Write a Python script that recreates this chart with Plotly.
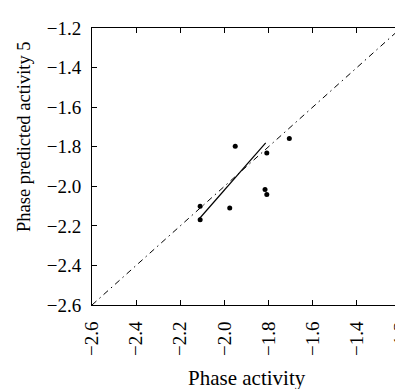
import plotly.graph_objects as go

# Observed data points (phase activity vs predicted activity)
obs_x = [-2.11, -2.11, -1.976, -1.951, -1.808, -1.706, -1.816, -1.808]
obs_y = [-2.101, -2.169, -2.110, -1.798, -1.832, -1.758, -2.016, -2.041]

# Regression line end points
fit_x = [-2.114, -1.813]
fit_y = [-2.164, -1.781]

# Identity line
diag = [-2.6, -1.2]

tick_vals = [-2.6, -2.4, -2.2, -2.0, -1.8, -1.6, -1.4, -1.2]
tick_text = ["\u22122.6", "\u22122.4", "\u22122.2", "\u22122.0", "\u22121.8", "\u22121.6", "\u22121.4", "\u22121.2"]

x_title = "Phase activity"
y_title = "Phase predicted activity 5"

font_family = "Liberation Serif, DejaVu Serif, serif"

fig = go.Figure()
fig.add_trace(go.Scatter(x=diag, y=diag, mode="lines",
                         line=dict(color="black", width=1, dash="6px,4px,1.5px,4px"),
                         showlegend=False, hoverinfo="skip"))
fig.add_trace(go.Scatter(x=fit_x, y=fit_y, mode="lines",
                         line=dict(color="black", width=1.2),
                         showlegend=False))
fig.add_trace(go.Scatter(x=obs_x, y=obs_y, mode="markers",
                         marker=dict(color="black", size=5),
                         showlegend=False))

axis_common = dict(
    range=[-2.6, -1.2], tickvals=tick_vals, ticktext=tick_text,
    showgrid=False, zeroline=False, showline=True, linecolor="black", linewidth=1,
    mirror="ticks", ticks="inside", ticklen=5, tickcolor="black", tickwidth=1,
    tickfont=dict(family=font_family, size=19, color="black"),
    automargin=False, ticklabeloverflow="allow",
)

fig.update_layout(
    width=403, height=389,
    margin=dict(l=84, r=10, t=20, b=92),
    paper_bgcolor="white", plot_bgcolor="white",
    font=dict(family=font_family, color="black"),
    xaxis=dict(**axis_common, tickangle=-90, ticklabelstandoff=8),
    yaxis=dict(**axis_common, ticklabelstandoff=6),
    annotations=[
        dict(text=x_title, xref="paper", yref="paper", x=0.5, y=-0.262,
             xanchor="center", yanchor="middle", showarrow=False,
             font=dict(family=font_family, size=21, color="black")),
        dict(text=y_title, xref="paper", yref="paper", x=-0.220, y=0.6065,
             xanchor="center", yanchor="middle", textangle=-90, showarrow=False,
             font=dict(family=font_family, size=18.5, color="black")),
    ],
)

fig.write_html("out.html")
